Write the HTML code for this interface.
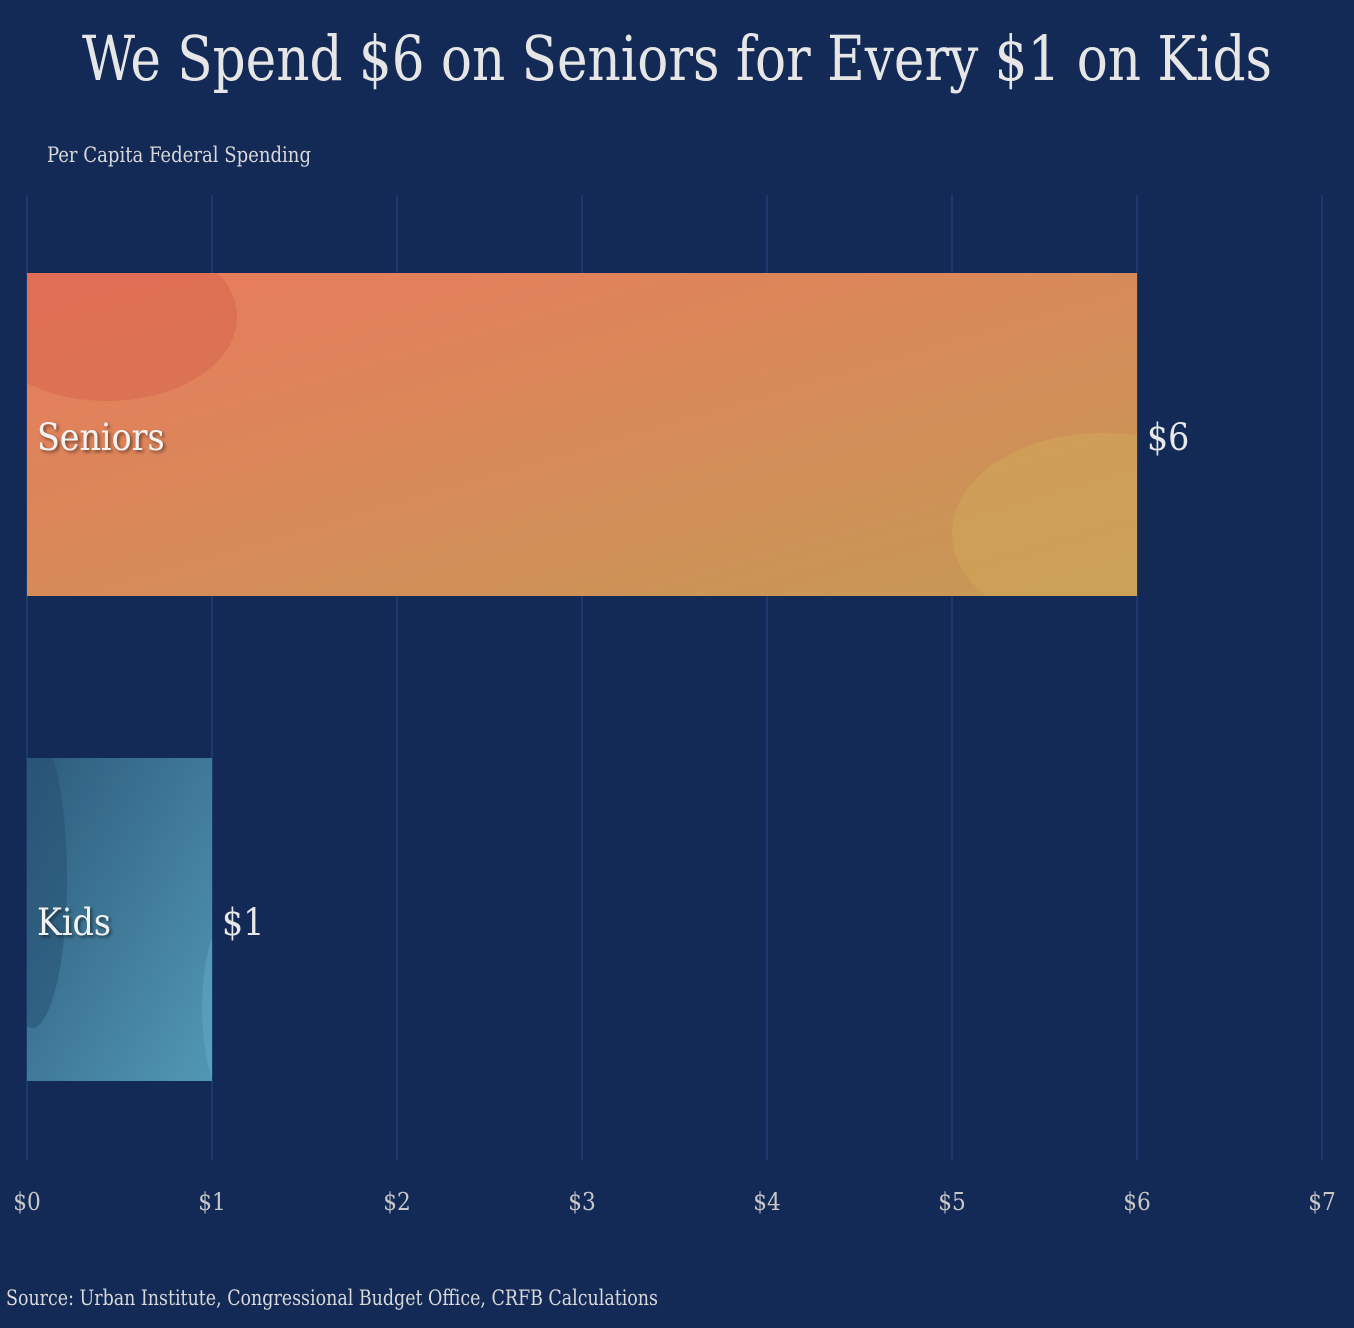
<!DOCTYPE html>
<html><head><meta charset="utf-8">
<style>
html,body{margin:0;padding:0;background:#132a57;}
body{width:1354px;height:1324px;overflow:hidden;font-family:"DejaVu Serif Condensed","DejaVu Serif","Liberation Serif",serif;}
</style></head>
<body>
<svg id="chart" width="1354" height="1324" xmlns="http://www.w3.org/2000/svg">
<defs>
<linearGradient id="gSen" x1="0" y1="0" x2="1" y2="1">
<stop offset="0" stop-color="#ea7a5d"/><stop offset="1" stop-color="#c49a55"/>
</linearGradient>
<linearGradient id="gKid" x1="0" y1="0" x2="1" y2="1">
<stop offset="0" stop-color="#2d5b7c"/><stop offset="1" stop-color="#5198b4"/>
</linearGradient>
<clipPath id="cSen"><rect id="cSenR" x="0" y="0" width="0" height="0"/></clipPath>
<clipPath id="cKid"><rect id="cKidR" x="0" y="0" width="0" height="0"/></clipPath>
<filter id="sh"><feDropShadow dx="2" dy="2" stdDeviation="1.5" flood-color="#000" flood-opacity="0.5"/></filter>
</defs>
<text x="677" y="80" text-anchor="middle" font-size="62" fill="#e6e6e6" textLength="1190" lengthAdjust="spacingAndGlyphs">We Spend $6 on Seniors for Every $1 on Kids</text>
<text x="47" y="162" font-size="21" fill="#d8d8d8" textLength="264" lengthAdjust="spacingAndGlyphs">Per Capita Federal Spending</text>
<g id="grid"></g>
<g id="bars"></g>
<g id="ticks"></g>
<text x="6" y="1305" font-size="21" fill="#d8d8d8" textLength="652" lengthAdjust="spacingAndGlyphs">Source: Urban Institute, Congressional Budget Office, CRFB Calculations</text>
</svg>
<script>
const categories = ["Seniors", "Kids"];
const values = [6, 1];
const valueLabels = ["$6", "$1"];
const tickValues = [0,1,2,3,4,5,6,7];
const tickLabels = ["$0","$1","$2","$3","$4","$5","$6","$7"];

const NS = "http://www.w3.org/2000/svg";
const x0 = 27, x1 = 1322, xMax = 7;
const xs = v => x0 + (x1 - x0) * v / xMax;
const bandTop = 273, bandStep = 485, barH = 323;
const ys = i => bandTop + i * bandStep;
function mk(tag, attrs, parent){const e=document.createElementNS(NS,tag);for(const k in attrs)e.setAttribute(k,attrs[k]);parent.appendChild(e);return e;}

const grid = document.getElementById('grid');
const ticks = document.getElementById('ticks');
tickValues.forEach((t,i)=>{
  const l = mk('line',{x1:xs(t),x2:xs(t),y1:195,y2:1160,stroke:'#24417a','stroke-width':1.2},grid);
  
  
  const tx = mk('text',{x:xs(t),y:1210,'text-anchor':'middle','font-size':24,fill:'#c8c8c8'},ticks);
  tx.textContent = tickLabels[i];
  
  
});

const bars = document.getElementById('bars');
categories.forEach((c,i)=>{
  const y = ys(i), w = xs(values[i]) - x0;
  const g = mk('g',{},bars);
  
  
  const clipId = i===0?'cSen':'cKid';
  const cr = document.getElementById(clipId+'R');
  cr.setAttribute('x',x0);cr.setAttribute('y',y);cr.setAttribute('width',w);cr.setAttribute('height',barH);
  mk('rect',{x:x0,y:y,width:w,height:barH,fill:i===0?'url(#gSen)':'url(#gKid)'},g);
  const cg = mk('g',{'clip-path':'url(#'+clipId+')'},g);
  if(i===0){
    mk('ellipse',{cx:x0+80,cy:y+44,rx:130,ry:84,fill:'#d2604a',opacity:0.45},cg);
    mk('ellipse',{cx:x0+w-35,cy:y+260,rx:150,ry:100,fill:'#cfa85a',opacity:0.55},cg);
  } else {
    mk('ellipse',{cx:x0+5,cy:y+120,rx:35,ry:150,fill:'#244d70',opacity:0.5},cg);
    mk('ellipse',{cx:x0+w+25,cy:y+250,rx:35,ry:100,fill:'#6ab2c8',opacity:0.4},cg);
  }
  const lab = mk('text',{x:x0+10,y:y+177,'font-size':37,fill:'#f2f2f2',filter:'url(#sh)'},g);
  lab.textContent = c;
  
  
  const vl = mk('text',{x:xs(values[i])+10,y:y+177,'font-size':37,fill:'#e8e8e8'},bars);
  vl.textContent = valueLabels[i];
  
  
});
</script>
</body></html>
